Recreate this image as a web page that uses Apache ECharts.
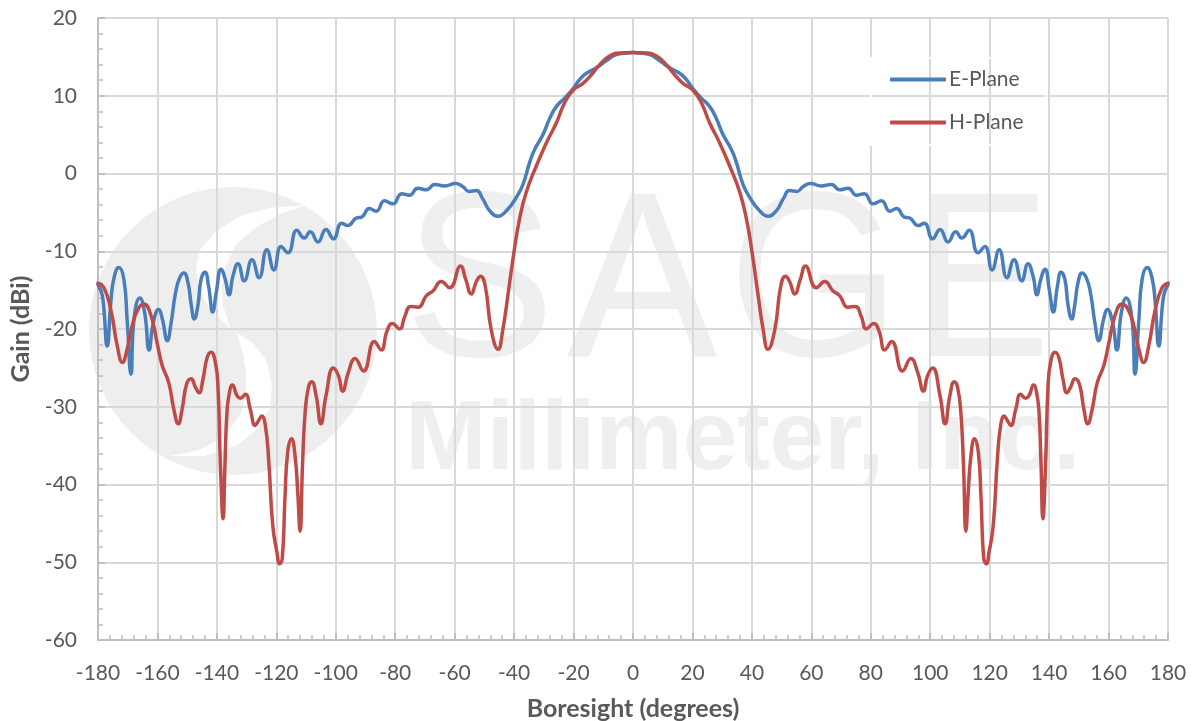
<!DOCTYPE html>
<html><head><meta charset="utf-8">
<style>html,body{margin:0;padding:0;background:#fff}#c{width:1194px;height:721px}</style>
<script src="https://cdn.jsdelivr.net/npm/echarts@6/dist/echarts.min.js"></script>
</head><body><div id="c"></div>
<script>
const ePlaneDeg = [-180,-178.5,-176.9,-175.7,-174.6,-173,-171.3,-170.2,-168.9,-167.9,-165.9,-164.3,-162.8,-161.4,-159.6,-158.3,-156.7,-155.4,-153.9,-152.5,-151.1,-149.7,-148.6,-147.6,-146.4,-145.3,-144,-142.8,-141.4,-140.2,-138.6,-137.2,-135.9,-134.6,-132.9,-130.8,-128.2,-125.8,-123.2,-120.8,-118.4,-116.1,-113.1,-110.6,-108.6,-106,-103.3,-100.8,-98,-96,-93,-91.3,-88.7,-86.4,-83.6,-80.8,-77.8,-75.2,-72.4,-69.5,-66.7,-63.4,-59.7,-57.2,-55.2,-52.7,-50.5,-48.2,-45.4,-42.6,-39.3,-37,-34.8,-33.1,-30.3,-28,-25.8,-23,-20.2,-17.9,-15.7,-12.3,-9,-5.6,-2.2,0,
2.2,5.6,9,12.3,15.7,17.9,20.2,23,25.8,28,30.3,33.1,34.8,37,39.3,42.6,45.4,48.2,50.5,52.7,55.2,57.2,59.7,63.4,66.7,69.5,72.4,75.2,77.8,80.8,83.6,86.4,88.7,91.3,93,96,98,100.8,103.3,106,108.6,110.6,113.1,116.1,118.4,120.8,123.2,125.8,128.2,130.8,132.9,134.6,135.9,137.2,138.6,140.2,141.4,142.8,144,145.3,146.4,147.6,148.6,149.7,151.1,152.5,153.9,155.4,156.7,158.3,159.6,161.4,162.8,164.3,165.9,167.9,168.9,170.2,171.3,173,174.6,175.7,176.9,178.5,180];
const ePlaneGain = [-14.3,-15.8,-22.2,-16.6,-13.4,-12.1,-13.6,-18.8,-25.8,-18.8,-16,-17.9,-22.7,-19.2,-17.5,-18.8,-21.5,-19.2,-15.3,-13.4,-12.8,-14.1,-17,-18.7,-17,-13.6,-12.7,-14.5,-17.8,-15.3,-12.3,-13.6,-15.6,-13.2,-11.6,-13.8,-11.1,-13.4,-9.8,-12.4,-9.4,-10.2,-7.3,-8.3,-7.5,-8.8,-7.2,-8.4,-6.4,-6.7,-5.7,-5.6,-4.5,-4.85,-3.5,-3.9,-2.6,-2.8,-1.9,-2.1,-1.4,-1.6,-1.3,-1.7,-2.3,-2.2,-3.3,-4.8,-5.5,-4.8,-3.1,-1.4,1.4,3.1,5,7.1,8.6,9.7,10.9,12.1,12.9,13.6,14.5,15.3,15.5,15.55,
15.5,15.3,14.5,13.6,12.9,12.1,10.9,9.7,8.6,7.1,5,3.1,1.4,-1.4,-3.1,-4.8,-5.5,-4.8,-3.3,-2.2,-2.3,-1.7,-1.3,-1.6,-1.4,-2.1,-1.9,-2.8,-2.6,-3.9,-3.5,-4.85,-4.5,-5.6,-5.7,-6.7,-6.4,-8.4,-7.2,-8.8,-7.5,-8.3,-7.3,-10.2,-9.4,-12.4,-9.8,-13.4,-11.1,-13.8,-11.6,-13.2,-15.6,-13.6,-12.3,-15.3,-17.8,-14.5,-12.7,-13.6,-17,-18.7,-17,-14.1,-12.8,-13.4,-15.3,-19.2,-21.5,-18.8,-17.5,-19.2,-22.7,-17.9,-16,-18.8,-25.8,-18.8,-13.6,-12.1,-13.4,-16.6,-22.2,-15.8,-14.3];
const hPlaneDeg = [-180,-178,-175.7,-173.5,-171.8,-170.2,-168.5,-166.6,-164.6,-162.3,-160.1,-158.4,-156.2,-154.5,-153,-151.7,-150.2,-148.7,-147.2,-146,-144.7,-143.3,-142,-140.5,-139.6,-138.8,-137.9,-137.3,-136.6,-135.8,-134.8,-133.2,-132.1,-130.4,-128.8,-127.1,-126,-124.9,-123.7,-122.6,-121.2,-119.8,-118.9,-118,-117.1,-116.2,-114.9,-113.7,-112.8,-112,-111.2,-110.3,-109.2,-108.1,-106.6,-105,-103.3,-100.8,-99.1,-97.7,-95.8,-93.5,-90.7,-87,-84.7,-82.8,-81,-78.5,-76.8,-74.8,-72.3,-69.5,-67.3,-64.5,-61.7,-58,-56.3,-54.4,-52.7,-51.3,-49.7,-47.7,-45.4,-43.8,-42,-40,-38.2,-36,-32.6,-29.2,-25.8,-23,-20.2,-16.8,-14,-11.2,-7.9,-4.5,0,
4.5,7.9,11.2,14,16.8,20.2,23,25.8,29.2,32.6,36,38.2,40,42,43.8,45.4,47.7,49.7,51.3,52.7,54.4,56.3,58,61.7,64.5,67.3,69.5,72.3,74.8,76.8,78.5,81,82.8,84.7,87,90.7,93.5,95.8,97.7,99.1,100.8,103.3,105,106.6,108.1,109.2,110.3,111.2,112,112.8,113.7,114.9,116.2,117.1,118,118.9,119.8,121.2,122.6,123.7,124.9,126,127.1,128.8,130.4,132.1,133.2,134.8,135.8,136.6,137.3,137.9,138.8,139.6,140.5,142,143.3,144.7,146,147.2,148.7,150.2,151.7,153,154.5,156.2,158.4,160.1,162.3,164.6,166.6,168.5,170.2,171.8,173.5,175.7,178,180];
const hPlaneGain = [-14.1,-14.7,-17.5,-22.2,-24.3,-22.6,-19.6,-17.5,-16.8,-18.1,-21.8,-24.7,-26.9,-30.3,-32.2,-30.3,-27.1,-26.4,-27.5,-28.2,-26.5,-23.7,-23,-24.3,-27.7,-37.6,-44.4,-37.6,-30.7,-28.2,-27.2,-28.6,-28.9,-28.4,-30.3,-32.4,-31.8,-31.2,-32.4,-36.7,-45.3,-48.7,-50.2,-49.5,-41.8,-35.9,-34.1,-36.3,-41,-46,-37.6,-30.7,-27.5,-26.8,-28.6,-32.2,-28.6,-25,-26,-28,-25.6,-23.8,-25.4,-21.6,-22.7,-20.3,-19.3,-20,-18.4,-17.1,-17.2,-15.7,-15.1,-13.9,-14.7,-11.9,-13.6,-15.5,-13.9,-13.2,-14.5,-20.1,-22.6,-20.1,-15.4,-10,-5.9,-2.5,0.9,3.9,6.5,9.1,10.7,11.6,12.7,14,15.1,15.5,15.55,
15.5,15.1,14,12.7,11.6,10.7,9.1,6.5,3.9,0.9,-2.5,-5.9,-10,-15.4,-20.1,-22.6,-20.1,-14.5,-13.2,-13.9,-15.5,-13.6,-11.9,-14.7,-13.9,-15.1,-15.7,-17.2,-17.1,-18.4,-20,-19.3,-20.3,-22.7,-21.6,-25.4,-23.8,-25.6,-28,-26,-25,-28.6,-32.2,-28.6,-26.8,-27.5,-30.7,-37.6,-46,-41,-36.3,-34.1,-35.9,-41.8,-49.5,-50.2,-48.7,-45.3,-36.7,-32.4,-31.2,-31.8,-32.4,-30.3,-28.4,-28.9,-28.6,-27.2,-28.2,-30.7,-37.6,-44.4,-37.6,-27.7,-24.3,-23,-23.7,-26.5,-28.2,-27.5,-26.4,-27.1,-30.3,-32.2,-30.3,-26.9,-24.7,-21.8,-18.1,-16.8,-17.5,-19.6,-22.6,-24.3,-22.2,-17.5,-14.7,-14.1];
const seriesNames = ['E-Plane','H-Plane'];
const seriesColors = ['#4a7ebb','#be4b48'];
const xTitle = 'Boresight (degrees)';
const yTitle = 'Gain (dBi)';
const zip = (a,b)=>a.map((v,i)=>[v,b[i]]);
const FONT = 'Lato, "Open Sans", sans-serif';
const WM = '#eeeeee';
const WMT = '#efefef';
const letter = (t,x,sx)=>({type:'text',z:-10,silent:true,x:x,y:173,scaleX:sx,style:{text:t,x:0,y:0,font:'236px "Liberation Sans"',fill:WMT}});
const chart = echarts.init(document.getElementById('c'),null,{renderer:'canvas'});
chart.setOption({
  animation:false,
  backgroundColor:'#fff',
  textStyle:{fontFamily:FONT},
  grid:{left:98,right:26,top:18,bottom:81,containLabel:false,outerBoundsMode:'none'},
  graphic:[
    {type:'circle',z:-10,silent:true,shape:{cx:233,cy:331,r:144},style:{fill:WM}},
    {type:'polygon',z:-9,silent:true,shape:{points:[[306,205],[270,208],[240,216],[215,232],[200,250],[196,268],[199,288],[210,310],[230,328],[223,305],[222,285],[226,265],[236,245],[255,228],[280,214]]},style:{fill:'#fff'}},
    {type:'polygon',z:-9,silent:true,shape:{points:[[236,332],[254,344],[266,360],[272,385],[270,408],[258,428],[238,445],[205,456],[170,456],[200,450],[225,436],[240,415],[246,395],[246,370],[242,350]]},style:{fill:'#fff'}},
    letter('S',404,0.96),letter('A',567,0.955),letter('G',728,0.94),letter('E',912,0.88),
    {type:'text',z:-10,silent:true,style:{text:'Millimeter, Inc.',x:405,y:393,font:'bold 98px "Liberation Sans"',fill:WMT}},
    {type:'rect',z:3,silent:true,shape:{x:871,y:58,width:175,height:87},style:{fill:'none',stroke:'#fff',lineWidth:2}}
  ],
  legend:{
    orient:'vertical',left:885,top:64,itemWidth:56,itemHeight:4,itemGap:22,
    icon:'roundRect',
    data:seriesNames,
    textStyle:{color:'#595959',fontSize:21,fontFamily:FONT,padding:[0,0,0,-2]}
  },
  xAxis:{
    type:'value',min:-180,max:180,interval:20,
    name:xTitle,nameLocation:'middle',nameGap:56,
    nameTextStyle:{color:'#595959',fontSize:25,fontWeight:'bold',fontFamily:FONT},
    axisLine:{show:true,onZero:false,lineStyle:{color:'#bfbfbf',width:2}},
    axisTick:{show:true,inside:true,length:7,lineStyle:{color:'#bfbfbf',width:2}},
    minorTick:{show:true,splitNumber:5,length:5,lineStyle:{color:'#bfbfbf',width:1.5}},
    axisLabel:{color:'#595959',fontSize:21,margin:23,fontFamily:FONT,showMinLabel:true,showMaxLabel:true},
    splitLine:{show:true,lineStyle:{color:'#d9d9d9',width:2}}
  },
  yAxis:{
    type:'value',min:-60,max:20,interval:10,
    name:yTitle,nameLocation:'middle',nameGap:65,
    nameTextStyle:{color:'#595959',fontSize:25,fontWeight:'bold',fontFamily:FONT},
    axisLine:{show:true,onZero:false,lineStyle:{color:'#bfbfbf',width:2}},
    axisTick:{show:true,inside:true,length:7,lineStyle:{color:'#bfbfbf',width:2}},
    minorTick:{show:true,splitNumber:5,length:5,lineStyle:{color:'#bfbfbf',width:1.5}},
    axisLabel:{color:'#595959',fontSize:21,margin:21,fontFamily:FONT},
    splitLine:{show:true,lineStyle:{color:'#d9d9d9',width:2}}
  },
  series:[
    {name:seriesNames[0],type:'line',showSymbol:false,symbol:'none',smooth:0.5,clip:false,
     data:zip(ePlaneDeg,ePlaneGain),itemStyle:{color:seriesColors[0]},lineStyle:{color:seriesColors[0],width:3.5,cap:'round',join:'round'}},
    {name:seriesNames[1],type:'line',showSymbol:false,symbol:'none',smooth:0.5,clip:false,
     data:zip(hPlaneDeg,hPlaneGain),itemStyle:{color:seriesColors[1]},lineStyle:{color:seriesColors[1],width:3.5,cap:'round',join:'round'}}
  ]
});
</script></body></html>
